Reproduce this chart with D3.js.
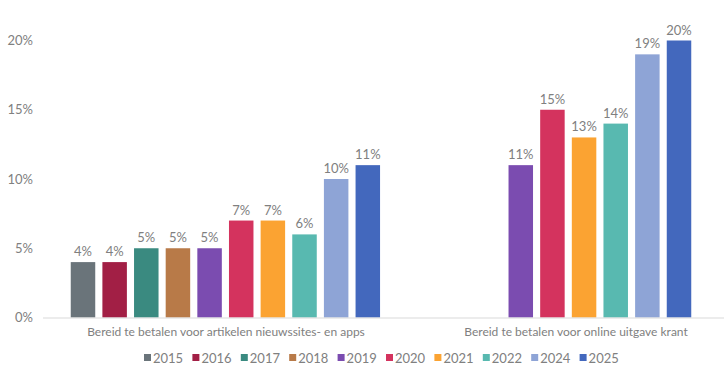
<!DOCTYPE html>
<html><head><meta charset="utf-8">
<script src="https://cdn.jsdelivr.net/npm/d3@7"></script>
<style>
html,body{margin:0;padding:0;background:#fff;}
svg{display:block;font-family:Lato, "Open Sans", sans-serif;}
</style></head>
<body>
<svg id="chart" width="724" height="376"></svg>
<script>
const categories = ["Bereid te betalen voor artikelen nieuwssites- en apps", "Bereid te betalen voor online uitgave krant"];
const years = ["2015","2016","2017","2018","2019","2020","2021","2022","2024","2025"];
const colors = ["#6a747a","#a21f45","#3a8a80","#b87a48","#7b4cb0","#d4335e","#fba332","#58b9b0","#8ea4d6","#4368bd"];
const valuesArtikelen = [4,4,5,5,5,7,7,6,10,11];
const valuesKrant = [null,null,null,null,11,15,13,14,19,20];
const yTicks = [0,5,10,15,20];

const seriesValues = [valuesArtikelen, valuesKrant];

const svg = d3.select("#chart");
const textColor = "#808080";
const fw = 400;

const y = d3.scaleLinear().domain([0,20]).range([317.5,40.5]);
const xLabel = d3.scaleBand().domain(categories).range([51,751]);
const xCluster = d3.scaleBand().domain(categories).range([69.8,692.2]);
const xYear = d3.scaleBand().domain(years).range([0,xCluster.bandwidth()]).paddingInner(0.226).paddingOuter(0.03);
const color = d3.scaleOrdinal().domain(years).range(colors);

// y axis labels
const yAxis = d3.axisLeft(y).tickValues(yTicks).tickFormat(d => d + "%").tickSize(0).tickPadding(0);
const gy = svg.append("g").attr("transform","translate(33,0)").call(yAxis);
gy.select(".domain").remove();
gy.selectAll("text").attr("fill",textColor).style("font-size","13px").style("font-weight",fw).style("font-family","Lato, sans-serif");

// bars
categories.forEach((cat, ci) => {
  const g = svg.append("g").attr("transform",`translate(${xCluster(cat)},0)`);
  const data = years.map((yr,i)=>({year:yr, value:seriesValues[ci][i]})).filter(d=>d.value!==null);
  g.selectAll("rect").data(data).join("rect")
    .attr("x",d=>xYear(d.year))
    .attr("width",xYear.bandwidth())
    .attr("y",d=>y(d.value))
    .attr("height",d=>y(0)-y(d.value))
    .attr("fill",d=>color(d.year));
  g.selectAll("text").data(data).join("text")
    .attr("x",d=>xYear(d.year)+xYear.bandwidth()/2)
    .attr("y",d=>y(d.value)-6)
    .attr("text-anchor","middle")
    .attr("fill",textColor)
    .style("font-size","13px")
    .style("font-weight",fw)
    .text(d=>d.value+"%");
});

// x axis
const xAxis = d3.axisBottom(xLabel).tickSize(0).tickPadding(0);
const gx = svg.append("g").attr("transform",`translate(0,${y(0)})`).call(xAxis);
gx.select(".domain").remove();
gx.selectAll("text").attr("fill",textColor).attr("dy","0").attr("y",18.5).style("font-size","12px").style("font-weight",fw).style("font-family","Lato, sans-serif");
svg.append("line").attr("x1",43).attr("x2",724).attr("y1",y(0)+0.5).attr("y2",y(0)+0.5)
  .attr("stroke","#d9d9d9").attr("stroke-width",1);

// legend
const legendX = d3.scaleBand().domain(years).range([144,628]);
const lg = svg.append("g").selectAll("g").data(years).join("g")
  .attr("transform",d=>`translate(${legendX(d)},358)`);
lg.append("rect").attr("x",0).attr("y",-4).attr("width",7).attr("height",7).attr("fill",d=>color(d));
lg.append("text").attr("x",9).attr("y",0).attr("dy","0.35em").attr("fill",textColor)
  .style("font-size","13px").style("font-weight",fw).text(d=>d);
</script>
</body></html>
